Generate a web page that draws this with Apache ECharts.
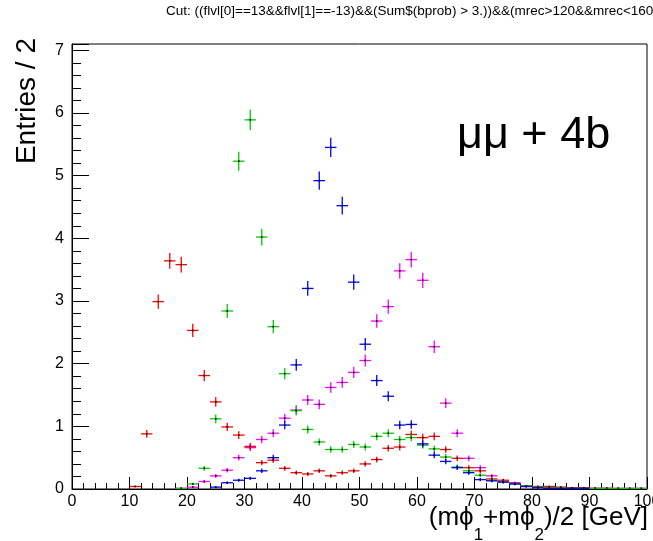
<!DOCTYPE html>
<html><head><meta charset="utf-8">
<script src="https://cdn.jsdelivr.net/npm/echarts@6/dist/echarts.min.js"></script>
<style>html,body{margin:0;padding:0;background:#fff}#c{width:653px;height:541px}</style>
</head><body><div id="c"></div>
<script>
// ---- data (bin width 2 GeV, values = entries per bin) ----
const binWidth = 2;
const xTickLabels = [0, 10, 20, 30, 40, 50, 60, 70, 80, 90, 100];
const yTickLabels = [0, 1, 2, 3, 4, 5, 6, 7];

const redFirstBin = 11;
const redValues = [0.04, 0.88, 2.99, 3.64, 3.58, 2.53, 1.81, 1.39, 0.99, 0.86, 0.68, 0.42, 0.46, 0.33, 0.26, 0.24, 0.29, 0.21, 0.26, 0.29,
  0.40, 0.47, 0.65, 0.67, 0.87, 0.82, 0.84, 0.63, 0.49, 0.34, 0.29, 0.16, 0.14, 0.09, 0.05, 0.04, 0.04, 0.03, 0.02, 0.02, 0.01, 0.01];

const greenFirstBin = 19;
const greenValues = [0.01, 0.08, 0.33, 1.12, 2.84, 5.23, 5.89, 4.02, 2.59, 1.84, 1.25, 0.95, 0.75, 0.63, 0.63, 0.71, 0.67, 0.84, 0.89, 0.79,
  0.82, 0.70, 0.64, 0.51, 0.35, 0.29, 0.22, 0.14, 0.11, 0.08, 0.05, 0.03, 0.02, 0.02, 0.01, 0.01, 0.01, 0.01, 0.01, 0.01, 0.01];

const blueFirstBin = 25;
const blueValues = [0.03, 0.10, 0.14, 0.17, 0.29, 0.50, 1.02, 1.98, 3.20, 4.92, 5.45, 4.52, 3.30, 2.31, 1.73, 1.48, 1.02, 1.03, 0.72, 0.54,
  0.44, 0.34, 0.26, 0.15, 0.13, 0.11, 0.08, 0.04, 0.02, 0.01, 0.01, 0.01, 0.01];

const magentaFirstBin = 19;
const magentaValues = [0.01, 0.03, 0.12, 0.21, 0.30, 0.50, 0.66, 0.79, 0.89, 1.13, 1.26, 1.42, 1.35, 1.62, 1.70, 1.86, 2.05, 2.68, 2.91, 3.48,
  3.66, 3.33, 2.27, 1.37, 0.89, 0.49, 0.34, 0.21, 0.12, 0.10, 0.04, 0.03, 0.02, 0.01, 0.01, 0.01, 0.01, 0.01, 0.01, 0.01, 0.01];

// per-event weight used for the statistical error bars (sqrt(sum w^2))
const eventWeight = 0.0044;

function buildData(firstBin, values) {
  return values.map((v, i) => [firstBin + i * binWidth, v, Math.sqrt(v * eventWeight)]);
}

function crossRenderer(color) {
  return function (params, api) {
    const x = api.value(0), y = api.value(1), e = api.value(2);
    const l = api.coord([x - binWidth / 2, y]);
    const r = api.coord([x + binWidth / 2, y]);
    const t = api.coord([x, y + e]);
    const b = api.coord([x, y - e]);
    const c = api.coord([x, y]);
    return {
      type: 'group',
      children: [
        { type: 'line', shape: { x1: l[0], y1: l[1], x2: r[0], y2: r[1] }, style: { stroke: color, lineWidth: 1.3 } },
        { type: 'line', shape: { x1: t[0], y1: t[1], x2: b[0], y2: b[1] }, style: { stroke: color, lineWidth: 1.3 } },
        { type: 'rect', shape: { x: c[0] - 0.8, y: c[1] - 0.8, width: 1.6, height: 1.6 }, style: { fill: '#000' } }
      ]
    };
  };
}

const seriesDefs = [
  { name: 'magenta', color: '#ff00ff', first: magentaFirstBin, values: magentaValues },
  { name: 'red', color: '#ff0000', first: redFirstBin, values: redValues },
  { name: 'green', color: '#00cc00', first: greenFirstBin, values: greenValues },
  { name: 'blue', color: '#0000ff', first: blueFirstBin, values: blueValues }
];

const FONT = '"Liberation Sans", Arial, Helvetica, sans-serif';
const chart = echarts.init(document.getElementById('c'), null, { renderer: 'canvas' });

chart.setOption({
  animation: false,
  backgroundColor: '#fff',
  grid: { left: 72, right: 6, top: 44, bottom: 52, show: true, borderColor: '#000', borderWidth: 1,
    backgroundColor: 'transparent', containLabel: false, outerBoundsMode: 'none' },
  xAxis: {
    type: 'value', min: xTickLabels[0], max: xTickLabels[xTickLabels.length - 1], interval: 10,
    axisLine: { show: true, lineStyle: { color: '#000', width: 1 } },
    axisTick: { show: true, inside: true, length: 12, lineStyle: { color: '#000', width: 1 } },
    minorTick: { show: true, splitNumber: 5, length: 6, lineStyle: { color: '#000', width: 1 } },
    axisLabel: { color: '#000', fontSize: 16, fontFamily: FONT, margin: 5, showMaxLabel: true, showMinLabel: true, hideOverlap: false },
    splitLine: { show: false }
  },
  yAxis: [
    {
      type: 'value', min: yTickLabels[0], max: 7.1, interval: 1, position: 'left',
      axisLine: { show: true, lineStyle: { color: '#000', width: 1 } },
      axisTick: { show: true, inside: true, length: 17, lineStyle: { color: '#000', width: 1 } },
      axisLabel: { color: '#000', fontSize: 16, fontFamily: FONT, margin: 8,
        formatter: v => (yTickLabels.indexOf(v) >= 0 ? String(v) : '') },
      splitLine: { show: false }
    },
    {
      type: 'value', min: yTickLabels[0], max: 7.1, interval: 0.2, position: 'left',
      axisLine: { show: false },
      axisTick: { show: true, inside: true, length: 9, lineStyle: { color: '#000', width: 1 } },
      axisLabel: { show: false },
      splitLine: { show: false }
    }
  ],
  series: seriesDefs.map(s => ({
    type: 'custom', name: s.name, coordinateSystem: 'cartesian2d', xAxisIndex: 0, yAxisIndex: 0,
    data: buildData(s.first, s.values), encode: { x: 0, y: 1 }, clip: true,
    renderItem: crossRenderer(s.color)
  })),
  graphic: [
    { type: 'text', x: 166, y: 4,
      style: { text: 'Cut: ((flvl[0]==13&&flvl[1]==-13)&&(Sum$(bprob) > 3.))&&(mrec>120&&mrec<160', fill: '#000', font: '13.5px ' + FONT, verticalAlign: 'top' } },
    { type: 'text', x: 27, y: 38, rotation: Math.PI / 2,
      style: { text: 'Entries / 2', fill: '#000', font: '28px ' + FONT, align: 'right', verticalAlign: 'middle' } },
    { type: 'text', x: 648, y: 505,
      style: {
        text: '{m|(mϕ}{s|1}{m|+mϕ}{s|2}{m|)/2 [GeV]}',
        align: 'right', verticalAlign: 'top', fill: '#000',
        rich: {
          m: { fontSize: 26, fontFamily: FONT, lineHeight: 30, verticalAlign: 'top', fill: '#000' },
          s: { fontSize: 17, fontFamily: FONT, lineHeight: 17, padding: [22, 0, 0, 0], verticalAlign: 'top', fill: '#000' }
        }
      } },
    { type: 'text', x: 457, y: 136,
      style: { text: 'μμ + 4b', fill: '#000', font: '45px ' + FONT, align: 'left', verticalAlign: 'middle' } }
  ]
});
</script>
</body></html>
